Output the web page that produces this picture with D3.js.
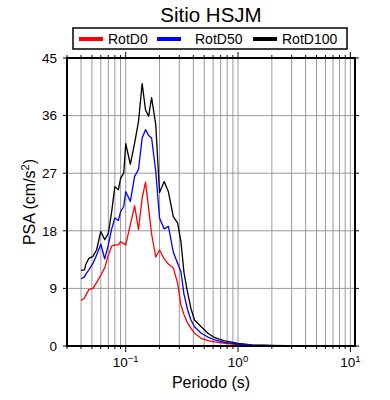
<!DOCTYPE html>
<html>
<meta charset="utf-8">
<script src="https://d3js.org/d3.v7.min.js"></script>
<style>
  body { margin: 0; background: #fff; }
  text { font-family: "Liberation Sans", Arial, Helvetica, sans-serif; fill: #000; }
</style>
<body>
<div id="vis"></div>

<script>

    // periods (s) shared by the three series
    var periods = [0.040, 0.043, 0.044, 0.047, 0.051, 0.055, 0.060, 0.065, 0.070, 0.075,
                   0.080, 0.086, 0.090, 0.096, 0.100, 0.110, 0.120, 0.130, 0.140, 0.150,
                   0.160, 0.170, 0.185, 0.200, 0.220, 0.240, 0.265, 0.290, 0.310, 0.330,
                   0.355, 0.380, 0.410, 0.470, 0.540, 0.620, 0.760, 1.00, 1.33, 2.0,
                   3.7, 5.0, 7.0, 10.0];

    var rotD0 = [7.1, 7.5, 7.9, 8.8, 9.0, 9.9, 11.1, 12.2, 14.2, 15.6,
                 15.8, 15.8, 16.3, 16.0, 15.8, 19.0, 21.9, 18.2, 23.1, 25.6,
                 21.5, 17.5, 13.9, 15.0, 13.6, 12.8, 12.2, 9.8, 6.4, 4.9,
                 3.6, 2.8, 2.0, 1.2, 0.85, 0.65, 0.42, 0.2, 0.1, 0.05,
                 0.02, 0.015, 0.01, 0.01];

    var rotD50 = [10.5, 10.8, 11.2, 11.9, 12.9, 14.2, 15.9, 13.6, 15.8, 18.3,
                  20.0, 19.6, 21.0, 21.8, 24.1, 22.6, 26.5, 27.6, 32.5, 33.8,
                  32.9, 32.5, 27.3, 20.0, 18.3, 18.7, 14.7, 12.9, 11.6, 8.1,
                  5.7, 4.1, 3.0, 2.0, 1.4, 0.94, 0.58, 0.31, 0.12, 0.06,
                  0.02, 0.015, 0.01, 0.01];

    var rotD100 = [11.8, 11.9, 12.7, 13.7, 14.0, 15.0, 17.9, 16.6, 17.6, 21.0,
                   24.9, 24.4, 26.2, 27.0, 31.6, 28.4, 31.7, 35.1, 41.0, 36.9,
                   35.9, 38.8, 34.6, 24.0, 25.7, 24.1, 20.2, 19.2, 16.3, 11.5,
                   8.4, 5.9, 4.07, 3.0, 2.0, 1.3, 0.8, 0.42, 0.16, 0.08,
                   0.03, 0.02, 0.01, 0.01];

    var seriesNames = ["RotD0", "RotD50", "RotD100"];
    var seriesColors = ["#ff0000", "#0000ff", "#000000"];
    var yTicks = [0, 9, 18, 27, 36, 45];
    var xDecades = [0.1, 1, 10];
    var xDecadeLabels = ["\u22121", "0", "1"];

    var margin = {top: 58, right: 35, bottom: 54, left: 67},
        total_width = 390,
        total_height = 400,
        width = total_width - margin.left - margin.right,
        height = total_height - margin.top - margin.bottom;

    var root = d3.select("#vis")
      .append("svg")
        .attr("width", total_width)
        .attr("height", total_height);

    var svg = root.append("g")
        .attr("transform", "translate(" + margin.left + "," + margin.top + ")");

    var x_scale = d3.scaleLog()
      .domain([0.03, 11])
      .range([0, width]);

    var y_scale = d3.scaleLinear()
      .domain([0, 45])
      .range([height, 0]);

    // minor log positions 2..9 for each decade inside the domain
    var minorTicks = [];
    [0.01, 0.1, 1, 10].forEach(function(dec) {
      for (var k = 1; k <= 9; k++) {
        var v = dec * k;
        if (v >= 0.03 && v <= 11) minorTicks.push(v);
      }
    });

    // grid
    svg.append("g")
      .selectAll("line")
      .data(minorTicks)
      .enter()
      .append("line")
        .attr("x1", function(d) { return x_scale(d); })
        .attr("x2", function(d) { return x_scale(d); })
        .attr("y1", 0)
        .attr("y2", height)
        .attr("stroke", "#9a9a9a")
        .attr("stroke-width", 1);

    svg.append("g")
      .selectAll("line")
      .data(yTicks.slice(1, -1))
      .enter()
      .append("line")
        .attr("x1", 0)
        .attr("x2", width)
        .attr("y1", function(d) { return y_scale(d); })
        .attr("y2", function(d) { return y_scale(d); })
        .attr("stroke", "#9a9a9a")
        .attr("stroke-width", 1);

    // ticks on all four sides
    var isMajor = function(d) { return xDecades.some(function(m) { return Math.abs(m - d) < 1e-9; }); };

    svg.append("g")
      .selectAll("line")
      .data(minorTicks)
      .enter()
      .append("line")
        .attr("x1", function(d) { return x_scale(d); })
        .attr("x2", function(d) { return x_scale(d); })
        .attr("y1", height)
        .attr("y2", function(d) { return height + (isMajor(d) ? 6 : 3); })
        .attr("stroke", "#000");

    svg.append("g")
      .selectAll("line")
      .data(minorTicks)
      .enter()
      .append("line")
        .attr("x1", function(d) { return x_scale(d); })
        .attr("x2", function(d) { return x_scale(d); })
        .attr("y1", 0)
        .attr("y2", function(d) { return isMajor(d) ? -6 : -3; })
        .attr("stroke", "#000");

    svg.append("g")
      .selectAll("line")
      .data(yTicks)
      .enter()
      .append("line")
        .attr("x1", -4)
        .attr("x2", 0)
        .attr("y1", function(d) { return y_scale(d); })
        .attr("y2", function(d) { return y_scale(d); })
        .attr("stroke", "#000");

    svg.append("g")
      .selectAll("line")
      .data(yTicks)
      .enter()
      .append("line")
        .attr("x1", width)
        .attr("x2", width + 4)
        .attr("y1", function(d) { return y_scale(d); })
        .attr("y2", function(d) { return y_scale(d); })
        .attr("stroke", "#000");

    // y tick labels
    svg.append("g")
      .selectAll("text")
      .data(yTicks)
      .enter()
      .append("text")
        .attr("x", -10)
        .attr("y", function(d) { return y_scale(d); })
        .attr("dy", "0.36em")
        .attr("text-anchor", "end")
        .style("font-size", "13.5px")
        .text(function(d) { return d; });

    // x tick labels 10^n
    var xl = svg.append("g")
      .selectAll("text")
      .data(xDecades)
      .enter()
      .append("text")
        .attr("x", function(d) { return x_scale(d); })
        .attr("y", height + 21)
        .attr("text-anchor", "middle")
        .style("font-size", "13.5px");
    xl.append("tspan").text("10");
    xl.append("tspan")
        .attr("dy", -5)
        .style("font-size", "9.5px")
        .text(function(d, i) { return xDecadeLabels[i]; });

    // curves
    svg.append("clipPath")
        .attr("id", "clip")
      .append("rect")
        .attr("width", width)
        .attr("height", height);

    var line = d3.line()
      .x(function(d) { return x_scale(d[0]); })
      .y(function(d) { return y_scale(d[1]); });

    var allSeries = [rotD0, rotD50, rotD100];
    [2, 0, 1].forEach(function(i) {
      svg.append("path")
        .datum(periods.map(function(p, j) { return [p, allSeries[i][j]]; }))
        .attr("clip-path", "url(#clip)")
        .attr("fill", "none")
        .attr("stroke", seriesColors[i])
        .attr("stroke-width", 1.3)
        .attr("stroke-linejoin", "round")
        .attr("d", line);
    });

    // frame
    svg.append("rect")
        .attr("width", width)
        .attr("height", height)
        .attr("fill", "none")
        .attr("stroke", "#000")
        .attr("stroke-width", 2);

    // axis titles
    svg.append("text")
        .attr("x", width / 2)
        .attr("y", height + 42)
        .attr("text-anchor", "middle")
        .style("font-size", "16px")
        .text("Periodo (s)");

    var yt = svg.append("text")
        .attr("transform", "translate(-32," + (height / 2) + ") rotate(-90)")
        .attr("text-anchor", "middle")
        .style("font-size", "16px");
    yt.append("tspan").text("PSA (cm/s");
    yt.append("tspan").attr("dy", -6).style("font-size", "11px").text("2");
    yt.append("tspan").attr("dy", 6).text(")");

    // title
    root.append("text")
        .attr("x", margin.left + width / 2)
        .attr("y", 22)
        .attr("text-anchor", "middle")
        .style("font-size", "20.5px")
        .text("Sitio HSJM");

    // legend
    var legend = root.append("g");
    legend.append("rect")
        .attr("x", 73)
        .attr("y", 28)
        .attr("width", 274)
        .attr("height", 21)
        .attr("fill", "#fff")
        .attr("stroke", "#000")
        .attr("stroke-width", 1.5);

    var legendX = [79, 157, 253];
    seriesNames.forEach(function(name, i) {
      legend.append("line")
          .attr("x1", legendX[i])
          .attr("x2", legendX[i] + 24)
          .attr("y1", 39)
          .attr("y2", 39)
          .attr("stroke", seriesColors[i])
          .attr("stroke-width", 4);
      legend.append("text")
          .attr("x", legendX[i] + (i == 1 ? 38 : 29))
          .attr("y", 44)
          .style("font-size", "14px")
          .text(name);
    });

</script>
</body>
</html>
